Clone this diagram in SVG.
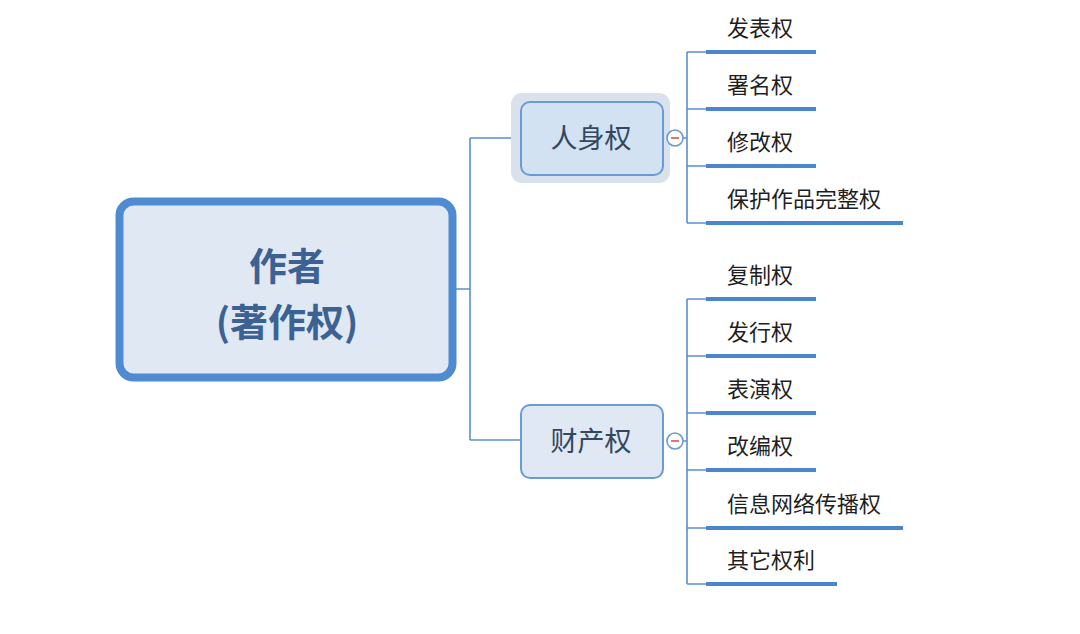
<svg xmlns="http://www.w3.org/2000/svg" width="1080" height="634" viewBox="0 0 1080 634">
<style>
.leaf{font-family:"Noto Sans CJK SC","Noto Sans",sans-serif;font-size:22px;fill:#1f1f1f}
.sub{font-family:"Noto Sans CJK SC","Noto Sans",sans-serif;font-size:27px;fill:#33475f;text-anchor:middle}
.main{font-family:"Noto Sans CJK SC","Noto Sans",sans-serif;font-size:38px;font-weight:bold;fill:#3b6292;text-anchor:middle}
.thin{stroke:#5b8fd0;stroke-width:1.6;fill:none}
.ul{stroke:#4a86cf;stroke-width:4;fill:none}
.tog{fill:#ffffff;stroke:#6b9bd3;stroke-width:1.6}
.minus{stroke:#d9534f;stroke-width:1.6}
</style>
<rect width="1080" height="634" fill="#ffffff"/>
<g id="connectors">
<path class="thin" d="M456,289 H470 M470,138 V440 M470,138 H521 M470,440 H521"/>
<path class="thin" d="M683,138 H687 M687,52 V223 M687,52 H706 M687,109 H706 M687,166 H706 M687,223 H706"/>
<path class="thin" d="M683,441 H687 M687,299 V584 M687,299 H706 M687,356 H706 M687,413 H706 M687,470 H706 M687,528 H706 M687,584 H706"/>
</g>
<g id="root">
<rect x="119.5" y="201.5" width="333" height="176" rx="14" fill="#dfe8f3" stroke="#4f8bd0" stroke-width="8"/>
<text class="main" x="287" y="280">作者</text>
<text class="main" x="287" y="336">(著作权)</text>
</g>
<g id="n-renshen">
<rect x="511" y="93" width="159" height="90" rx="11" fill="#d9e2ec"/>
<rect x="521" y="102" width="142" height="73" rx="9" fill="#d2e2f3" stroke="#6a9bd3" stroke-width="2"/>
<text class="sub" x="591" y="148">人身权</text>
<circle class="tog" cx="675" cy="138" r="8"/>
<line class="minus" x1="671" y1="138" x2="679" y2="138"/>
</g>
<g id="n-caichan">
<rect x="521" y="405" width="142" height="73" rx="9" fill="#dfe8f3" stroke="#6a9bd3" stroke-width="2"/>
<text class="sub" x="591" y="451">财产权</text>
<circle class="tog" cx="675" cy="441" r="8"/>
<line class="minus" x1="671" y1="441" x2="679" y2="441"/>
</g>
<g id="l1"><text class="leaf" x="727" y="36">发表权</text><line class="ul" x1="706" y1="52" x2="816" y2="52"/></g>
<g id="l2"><text class="leaf" x="727" y="93">署名权</text><line class="ul" x1="706" y1="109" x2="816" y2="109"/></g>
<g id="l3"><text class="leaf" x="727" y="150">修改权</text><line class="ul" x1="706" y1="166" x2="816" y2="166"/></g>
<g id="l4"><text class="leaf" x="727" y="207">保护作品完整权</text><line class="ul" x1="706" y1="223" x2="903" y2="223"/></g>
<g id="l5"><text class="leaf" x="727" y="283">复制权</text><line class="ul" x1="706" y1="299" x2="816" y2="299"/></g>
<g id="l6"><text class="leaf" x="727" y="340">发行权</text><line class="ul" x1="706" y1="356" x2="816" y2="356"/></g>
<g id="l7"><text class="leaf" x="727" y="397">表演权</text><line class="ul" x1="706" y1="413" x2="816" y2="413"/></g>
<g id="l8"><text class="leaf" x="727" y="454">改编权</text><line class="ul" x1="706" y1="470" x2="816" y2="470"/></g>
<g id="l9"><text class="leaf" x="727" y="512">信息网络传播权</text><line class="ul" x1="706" y1="528" x2="903" y2="528"/></g>
<g id="l10"><text class="leaf" x="727" y="568">其它权利</text><line class="ul" x1="706" y1="584" x2="837" y2="584"/></g>
</svg>
